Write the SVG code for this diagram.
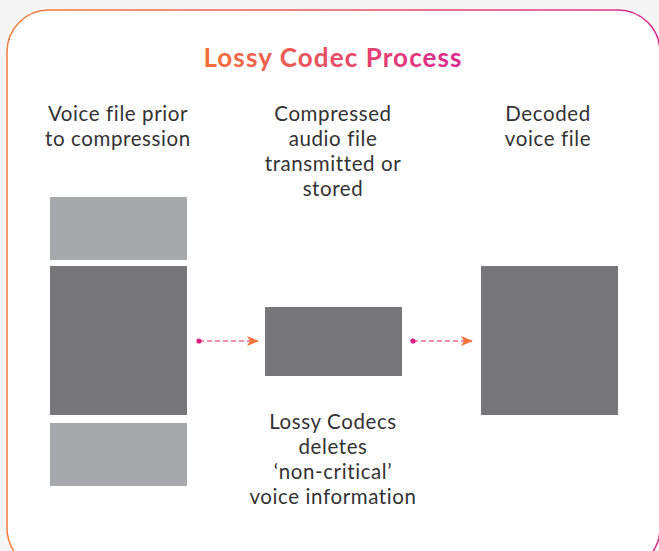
<svg xmlns="http://www.w3.org/2000/svg" width="659" height="551" viewBox="0 0 659 551">
<defs>
<linearGradient id="gBorder" x1="0" y1="0" x2="1" y2="0">
<stop offset="0" stop-color="#f47c3c"/>
<stop offset="1" stop-color="#dc2a8e"/>
</linearGradient>
<linearGradient id="gTitle" gradientUnits="userSpaceOnUse" x1="203" y1="0" x2="462" y2="0">
<stop offset="0" stop-color="#f2703a"/>
<stop offset="1" stop-color="#dc2a8e"/>
</linearGradient>
<marker id="arrow" viewBox="0 0 12 10" refX="11" refY="5" markerWidth="12" markerHeight="10" markerUnits="userSpaceOnUse" orient="auto">
<path d="M0,0 L12,5 L0,10 L3,5 Z" fill="#f4733c"/>
</marker>
<style>
.lbl{font-family:Lato,"Open Sans","Liberation Sans",sans-serif;font-size:20.5px;letter-spacing:0.6px;fill:#333333;text-anchor:middle}
.title{font-family:Lato,"Open Sans","Liberation Sans",sans-serif;font-size:26px;letter-spacing:1.1px;font-weight:bold;text-anchor:middle}
.light{fill:#a7a8ab}
.dark{fill:#777779}
.conn{stroke-width:1.5;stroke-dasharray:5 3;fill:none;stroke:#ea6a8e}
.dot{fill:#d81f86}
</style>
</defs>
<rect x="0" y="0" width="659" height="551" fill="#f5f5f5"/>
<rect x="7" y="10" width="653" height="560" rx="42" ry="42" fill="#ffffff" stroke="url(#gBorder)" stroke-width="1.5"/>
<text class="title" x="333" y="67" fill="url(#gTitle)">Lossy Codec Process</text>
<g id="source">
<text class="lbl" x="118" y="121">Voice file prior</text>
<text class="lbl" x="118" y="146">to compression</text>
<rect class="light" x="50" y="197" width="137" height="63"/>
<rect class="dark" x="50" y="266" width="137" height="149"/>
<rect class="light" x="50" y="423" width="137" height="63"/>
</g>
<g id="compressed">
<text class="lbl" x="333" y="121">Compressed</text>
<text class="lbl" x="333" y="146">audio file</text>
<text class="lbl" x="333" y="171">transmitted or</text>
<text class="lbl" x="333" y="196">stored</text>
<rect class="dark" x="265" y="307" width="137" height="69"/>
<text class="lbl" x="333" y="429">Lossy Codecs</text>
<text class="lbl" x="333" y="454">deletes</text>
<text class="lbl" x="333" y="479">‘non-critical’</text>
<text class="lbl" x="333" y="504">voice information</text>
</g>
<g id="decoded">
<text class="lbl" x="548" y="121">Decoded</text>
<text class="lbl" x="548" y="146">voice file</text>
<rect class="dark" x="481" y="266" width="137" height="149"/>
</g>
<g id="connectors">
<line class="conn" x1="199" y1="341" x2="258" y2="341" marker-end="url(#arrow)"/>
<circle class="dot" cx="199" cy="341" r="2.6"/>
<line class="conn" x1="413" y1="341" x2="472" y2="341" marker-end="url(#arrow)"/>
<circle class="dot" cx="413" cy="341" r="2.6"/>
</g>
</svg>
